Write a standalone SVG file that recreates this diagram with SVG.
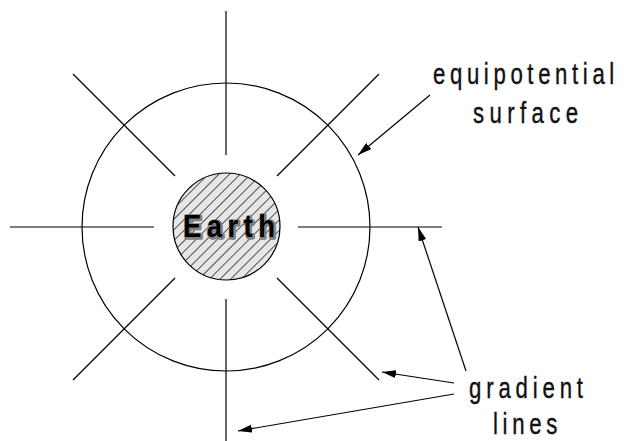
<svg xmlns="http://www.w3.org/2000/svg" width="624" height="441" viewBox="0 0 624 441">
<style>
.ln{stroke:#000;stroke-width:1.2;fill:none}
.lbl{font-family:"Liberation Sans",Arial,sans-serif;font-size:30px;fill:#111;stroke:#111;stroke-width:0.4}
.earth{font-family:"Liberation Sans",Arial,sans-serif;font-size:32px;font-weight:bold}
</style>
<defs>
<pattern id="hatch" patternUnits="userSpaceOnUse" width="7.5" height="7.5" patternTransform="rotate(45)">
<rect width="7.5" height="7.5" fill="#e6e6e6"/>
<line x1="0" y1="0" x2="0" y2="7.5" stroke="#000" stroke-width="1.3"/>
</pattern>
<marker id="ah" viewBox="0 0 14 8" refX="14" refY="4" markerWidth="14" markerHeight="8" orient="auto" markerUnits="userSpaceOnUse">
<path d="M0,0 L14,4 L0,8 z" fill="#000"/>
</marker>
</defs>
<rect width="624" height="441" fill="#fff"/>
<g id="equipotential-surface">
<circle class="ln" cx="226" cy="227" r="144"/>
</g>
<g id="earth">
<circle cx="226.5" cy="226.5" r="53.5" fill="url(#hatch)" stroke="#000" stroke-width="1.2"/>
<text class="earth" transform="translate(184,238) scale(0.86,1)" x="0" y="0" textLength="107" lengthAdjust="spacing" fill="#808080" stroke="#808080" stroke-width="3.5" stroke-linejoin="round">Earth</text>
<text class="earth" transform="translate(183,237) scale(0.86,1)" x="0" y="0" textLength="107" lengthAdjust="spacing" fill="#000">Earth</text>
</g>
<g id="gradient-lines">
<line class="ln" x1="226" y1="11" x2="226" y2="155"/>
<line class="ln" x1="226" y1="299" x2="226" y2="441"/>
<line class="ln" x1="10" y1="227" x2="154" y2="227"/>
<line class="ln" x1="298" y1="227" x2="442" y2="227"/>
<line class="ln" x1="73" y1="74" x2="175" y2="176"/>
<line class="ln" x1="379" y1="74" x2="277" y2="176"/>
<line class="ln" x1="73" y1="380" x2="175" y2="278"/>
<line class="ln" x1="379" y1="380" x2="277" y2="278"/>
</g>
<g id="label-equipotential">
<text class="lbl" transform="translate(433,84) scale(0.74,1)" x="0" y="0" textLength="245" lengthAdjust="spacing">equipotential</text>
<text class="lbl" transform="translate(473,123) scale(0.74,1)" x="0" y="0" textLength="142" lengthAdjust="spacing">surface</text>
</g>
<g id="label-gradient">
<text class="lbl" transform="translate(469,398) scale(0.74,1)" x="0" y="0" textLength="154" lengthAdjust="spacing">gradient</text>
<text class="lbl" transform="translate(493,434) scale(0.74,1)" x="0" y="0" textLength="87" lengthAdjust="spacing">lines</text>
</g>
<g id="connectors">
<line class="ln" x1="430" y1="95" x2="358" y2="155" marker-end="url(#ah)"/>
<line class="ln" x1="466" y1="371" x2="418" y2="227" marker-end="url(#ah)"/>
<line class="ln" x1="454" y1="383" x2="382" y2="372" marker-end="url(#ah)"/>
<line class="ln" x1="454" y1="394" x2="238" y2="431" marker-end="url(#ah)"/>
</g>
</svg>
